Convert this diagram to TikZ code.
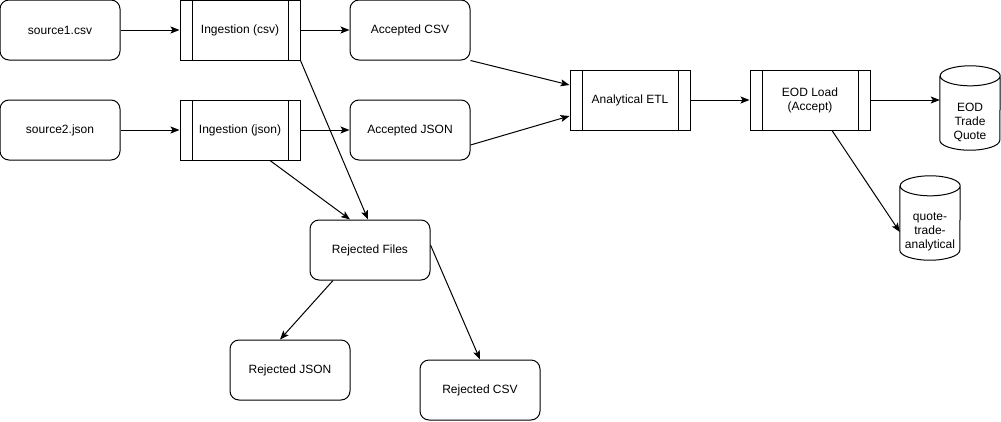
\documentclass[tikz,border=0pt]{standalone}
\usepackage{fontspec}
\setmainfont{Liberation Sans}
\usetikzlibrary{arrows.meta}
\begin{document}
\begin{tikzpicture}[x=1pt,y=-1pt,
  every node/.style={font=\fontsize{12}{14}\selectfont, align=center},
  rbox/.style={draw, rounded corners=9pt, minimum width=120pt, minimum height=60pt, inner sep=0pt, line width=1pt},
  proc/.style={draw, minimum width=120pt, minimum height=60pt, inner sep=0pt, line width=1pt,
    path picture={
      \draw[line width=1pt] ([xshift=12pt]path picture bounding box.north west) -- ([xshift=12pt]path picture bounding box.south west);
      \draw[line width=1pt] ([xshift=-12pt]path picture bounding box.north east) -- ([xshift=-12pt]path picture bounding box.south east);
    }},
  cylbody/.style={minimum width=60pt, inner sep=0pt},
  conn/.style={line width=1pt, -{Stealth[length=9pt,width=7pt,inset=2pt]}},
  cylline/.style={line width=1pt}
]
\useasboundingbox (0,0) rectangle (1001,421);

\node[rbox] (s1) at (60,30) {source1.csv};
\node[proc] (icsv) at (240,30) {Ingestion (csv)};
\node[rbox] (acsv) at (410,30) {Accepted CSV};
\node[rbox] (s2) at (60,130) {source2.json};
\node[proc] (ijson) at (240,130) {Ingestion (json)};
\node[rbox] (ajson) at (410,130) {Accepted JSON};
\node[proc] (etl) at (630,100) {Analytical ETL};
\node[proc] (eodl) at (810,100) {EOD Load\\(Accept)};
\node[rbox] (rf) at (370,250) {Rejected Files};
\node[rbox] (rjson) at (290,370) {Rejected JSON};
\node[rbox] (rcsv) at (480,390) {Rejected CSV};

% cylinders
\node[cylbody, minimum height=56pt] (eod) at (970,122) {EOD\\Trade\\Quote};
\draw[cylline] ([yshift=18pt]eod.north west) -- ([yshift=10pt]eod.south west)
  arc[start angle=180,end angle=360,x radius=30pt,y radius=10pt]
  -- ([yshift=18pt]eod.north east)
  arc[start angle=0,end angle=180,x radius=30pt,y radius=10pt]
  arc[start angle=180,end angle=360,x radius=30pt,y radius=10pt];

\node[cylbody, minimum height=56pt] (qta) at (930,232) {quote-\\trade-\\analytical};
\draw[cylline] ([yshift=18pt]qta.north west) -- ([yshift=10pt]qta.south west)
  arc[start angle=180,end angle=360,x radius=30pt,y radius=10pt]
  -- ([yshift=18pt]qta.north east)
  arc[start angle=0,end angle=180,x radius=30pt,y radius=10pt]
  arc[start angle=180,end angle=360,x radius=30pt,y radius=10pt];

% connectors
\draw[conn] (s1) -- (icsv);
\draw[conn] (icsv) -- (acsv);
\draw[conn] (s2) -- (ijson);
\draw[conn] (ijson) -- (ajson);
\draw[conn] (acsv.south east) -- ([yshift=15pt]etl.west);
\draw[conn] ([yshift=-15pt]ajson.east) -- ([yshift=-16pt]etl.west);
\draw[conn] (etl) -- (eodl);
\draw[conn] (eodl.east) -- (eodl.east -| eod.west);
\draw[conn] ([xshift=22pt]eodl.south) -- (qta.west);
\draw[conn] (icsv.south east) -- ([xshift=-2pt]rf.north);
\draw[conn] ([xshift=30pt]ijson.south) -- ([xshift=-20pt]rf.north);
\draw[conn] ([xshift=-37pt]rf.south) -- ([xshift=-10pt]rjson.north);
\draw[conn] ([yshift=5pt]rf.east) -- (rcsv.north);
\end{tikzpicture}
\end{document}
